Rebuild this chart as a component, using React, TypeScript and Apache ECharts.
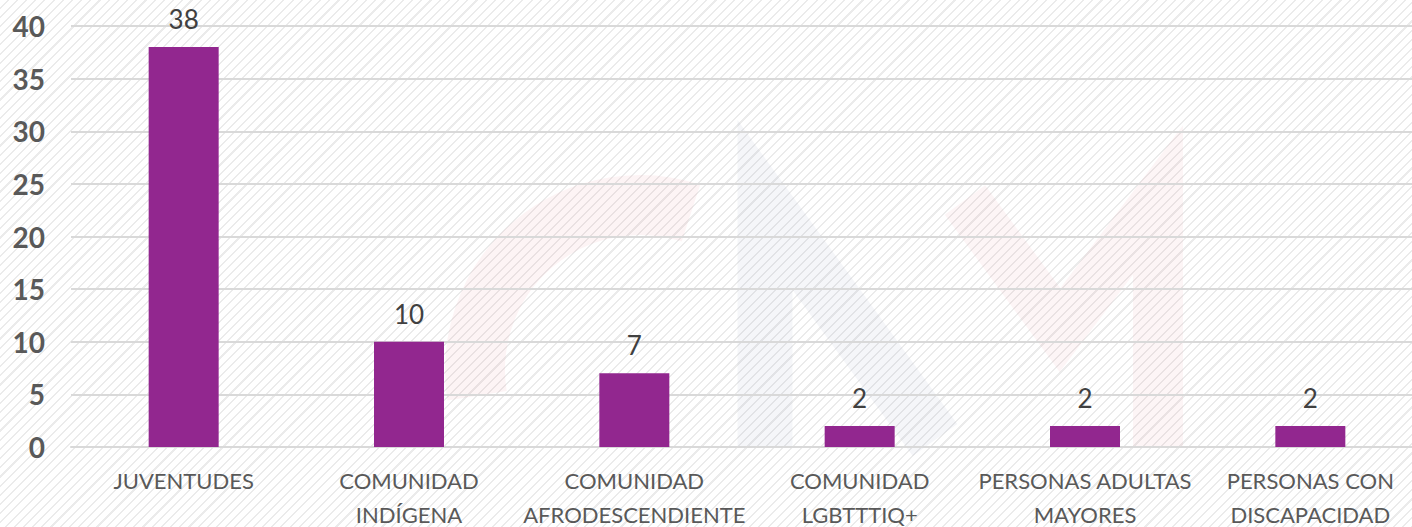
import React, { useEffect, useRef } from "react";
import * as echarts from "echarts";

const categories = [
  "JUVENTUDES",
  "COMUNIDAD\nINDÍGENA",
  "COMUNIDAD\nAFRODESCENDIENTE",
  "COMUNIDAD\nLGBTTTIQ+",
  "PERSONAS ADULTAS\nMAYORES",
  "PERSONAS CON\nDISCAPACIDAD",
];
const values = [38, 10, 7, 2, 2, 2];
const yMin = 0;
const yMax = 40;
const yInterval = 5;

export default function App() {
  const ref = useRef<HTMLDivElement>(null);
  useEffect(() => {
    if (!ref.current) return;
    const chart = echarts.init(ref.current, null, { renderer: "svg" });
    chart.setOption({
      animation: false,
      backgroundColor: "transparent",
      grid: { left: 71, right: -11, top: 26, bottom: 80, outerBoundsMode: "none", containLabel: false },
      graphic: [
        {
          type: "arc",
          z: -10,
          silent: true,
          shape: { cx: 640, cy: 370, r: 165, startAngle: Math.PI * 0.95, endAngle: Math.PI * 1.6 },
          style: { stroke: "rgba(220,60,80,0.06)", lineWidth: 60, fill: null },
        },
        {
          type: "polyline",
          z: -10,
          silent: true,
          shape: { points: [[765, 447], [765, 205], [935, 440]] },
          style: { stroke: "rgba(90,100,160,0.06)", lineWidth: 55, fill: null },
        },
        {
          type: "polyline",
          z: -10,
          silent: true,
          shape: { points: [[965, 200], [1060, 330], [1158, 200], [1158, 447]] },
          style: { stroke: "rgba(220,60,80,0.05)", lineWidth: 50, fill: null },
        },
      ],
      xAxis: {
        type: "category",
        data: categories,
        axisLine: { show: true, lineStyle: { color: "#d9d9d9", width: 2 } },
        axisTick: { show: false },
        axisLabel: {
          color: "#595959",
          fontSize: 22,
          fontFamily: "Lato",
          lineHeight: 34,
          margin: 16,
          interval: 0,
        },
      },
      yAxis: {
        type: "value",
        min: yMin,
        max: yMax,
        interval: yInterval,
        axisLine: { show: false },
        axisTick: { show: false },
        splitLine: { lineStyle: { color: "#d9d9d9", width: 2 } },
        axisLabel: {
          color: "#595959",
          fontSize: 28,
          fontWeight: "bold",
          fontFamily: "Lato",
          margin: 26,
        },
      },
      series: [
        {
          type: "bar",
          data: values,
          barWidth: 70,
          itemStyle: { color: "#92278f" },
          label: {
            show: true,
            position: "top",
            distance: 15,
            color: "#404040",
            fontSize: 26,
            fontFamily: "Lato",
          },
        },
      ],
    });
    return () => chart.dispose();
  }, []);
  return (
    <div
      style={{
        position: "fixed",
        left: 0,
        top: 0,
        width: 1412,
        height: 527,
        background:
          "repeating-linear-gradient(135deg, #ffffff 0px, #ffffff 5px, #ebebeb 5px, #ebebeb 6.5px)",
      }}
    >
      <div ref={ref} style={{ width: 1412, height: 527 }} />
    </div>
  );
}
